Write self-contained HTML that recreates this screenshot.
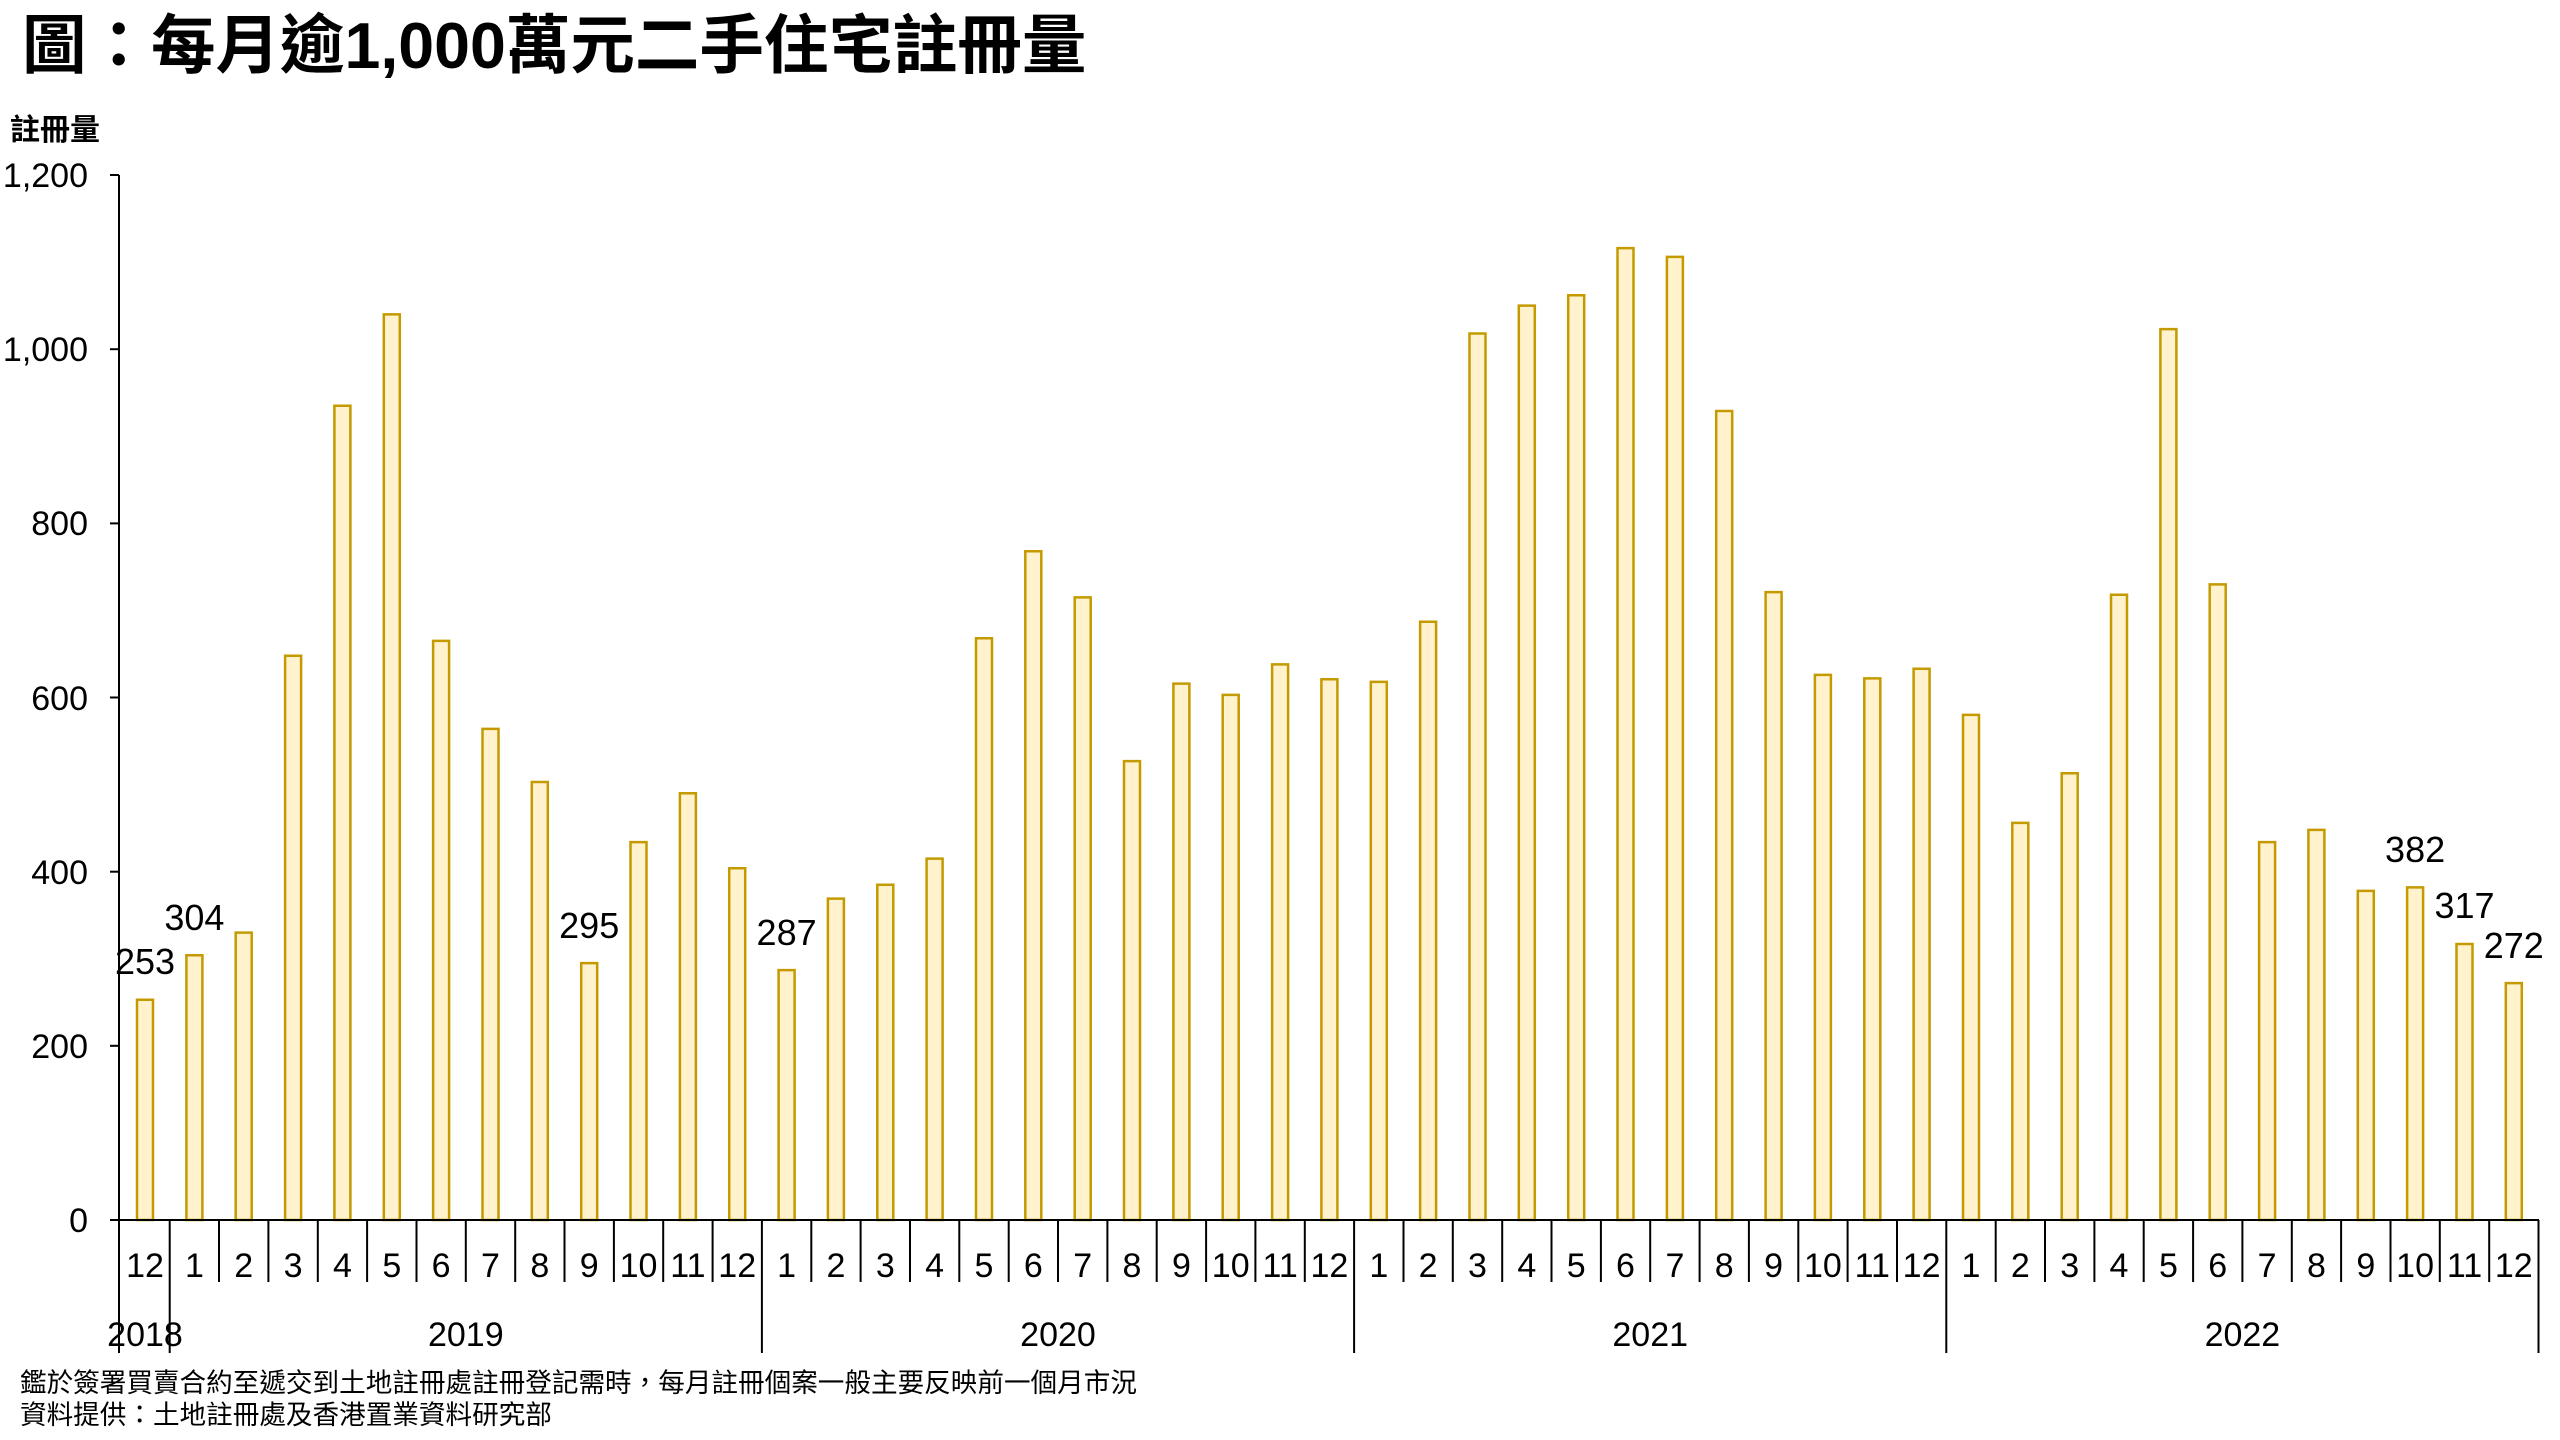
<!DOCTYPE html>
<html><head><meta charset="utf-8"><style>
body{margin:0;background:#fff;width:2560px;height:1440px;overflow:hidden}
svg{display:block}
text{font-family:"Liberation Sans","Noto Sans CJK TC",sans-serif;fill:#000}
</style></head><body>
<svg width="2560" height="1440" viewBox="0 0 2560 1440" xmlns="http://www.w3.org/2000/svg">
<text x="22" y="68" font-size="64.5" font-weight="bold">圖：每月逾1,000萬元二手住宅註冊量</text>
<text x="10" y="140" font-size="30" font-weight="bold">註冊量</text>
<g font-size="34" text-anchor="end">
<text x="88" y="1232">0</text><text x="88" y="1058">200</text><text x="88" y="884">400</text><text x="88" y="710">600</text><text x="88" y="535">800</text><text x="88" y="361">1,000</text><text x="88" y="187">1,200</text>
</g>
<g stroke="#000" stroke-width="2">
<line x1="119" y1="175" x2="119" y2="1353"/>
<line x1="110" y1="175" x2="119" y2="175"/><line x1="110" y1="349.2" x2="119" y2="349.2"/><line x1="110" y1="523.4" x2="119" y2="523.4"/><line x1="110" y1="697.5" x2="119" y2="697.5"/><line x1="110" y1="871.7" x2="119" y2="871.7"/><line x1="110" y1="1045.8" x2="119" y2="1045.8"/><line x1="110" y1="1220" x2="119" y2="1220"/>
</g>
<g transform="translate(0,1220) scale(1,-0.8708)" fill="#FFF2CC" stroke="#C49A00" stroke-width="2.5">
<rect vector-effect="non-scaling-stroke" x="137" y="0" width="16" height="253"/>
<rect vector-effect="non-scaling-stroke" x="186.4" y="0" width="16" height="304"/>
<rect vector-effect="non-scaling-stroke" x="235.7" y="0" width="16" height="330"/>
<rect vector-effect="non-scaling-stroke" x="285.1" y="0" width="16" height="648"/>
<rect vector-effect="non-scaling-stroke" x="334.4" y="0" width="16" height="935"/>
<rect vector-effect="non-scaling-stroke" x="383.8" y="0" width="16" height="1040"/>
<rect vector-effect="non-scaling-stroke" x="433.1" y="0" width="16" height="665"/>
<rect vector-effect="non-scaling-stroke" x="482.5" y="0" width="16" height="564"/>
<rect vector-effect="non-scaling-stroke" x="531.8" y="0" width="16" height="503"/>
<rect vector-effect="non-scaling-stroke" x="581.2" y="0" width="16" height="295"/>
<rect vector-effect="non-scaling-stroke" x="630.5" y="0" width="16" height="434"/>
<rect vector-effect="non-scaling-stroke" x="679.9" y="0" width="16" height="490"/>
<rect vector-effect="non-scaling-stroke" x="729.2" y="0" width="16" height="404"/>
<rect vector-effect="non-scaling-stroke" x="778.6" y="0" width="16" height="287"/>
<rect vector-effect="non-scaling-stroke" x="827.9" y="0" width="16" height="369"/>
<rect vector-effect="non-scaling-stroke" x="877.3" y="0" width="16" height="385"/>
<rect vector-effect="non-scaling-stroke" x="926.6" y="0" width="16" height="415"/>
<rect vector-effect="non-scaling-stroke" x="976" y="0" width="16" height="668"/>
<rect vector-effect="non-scaling-stroke" x="1025.3" y="0" width="16" height="768"/>
<rect vector-effect="non-scaling-stroke" x="1074.7" y="0" width="16" height="715"/>
<rect vector-effect="non-scaling-stroke" x="1124" y="0" width="16" height="527"/>
<rect vector-effect="non-scaling-stroke" x="1173.4" y="0" width="16" height="616"/>
<rect vector-effect="non-scaling-stroke" x="1222.7" y="0" width="16" height="603"/>
<rect vector-effect="non-scaling-stroke" x="1272.1" y="0" width="16" height="638"/>
<rect vector-effect="non-scaling-stroke" x="1321.4" y="0" width="16" height="621"/>
<rect vector-effect="non-scaling-stroke" x="1370.8" y="0" width="16" height="618"/>
<rect vector-effect="non-scaling-stroke" x="1420.1" y="0" width="16" height="687"/>
<rect vector-effect="non-scaling-stroke" x="1469.5" y="0" width="16" height="1018"/>
<rect vector-effect="non-scaling-stroke" x="1518.8" y="0" width="16" height="1050"/>
<rect vector-effect="non-scaling-stroke" x="1568.2" y="0" width="16" height="1062"/>
<rect vector-effect="non-scaling-stroke" x="1617.5" y="0" width="16" height="1116"/>
<rect vector-effect="non-scaling-stroke" x="1666.9" y="0" width="16" height="1106"/>
<rect vector-effect="non-scaling-stroke" x="1716.2" y="0" width="16" height="929"/>
<rect vector-effect="non-scaling-stroke" x="1765.6" y="0" width="16" height="721"/>
<rect vector-effect="non-scaling-stroke" x="1814.9" y="0" width="16" height="626"/>
<rect vector-effect="non-scaling-stroke" x="1864.3" y="0" width="16" height="622"/>
<rect vector-effect="non-scaling-stroke" x="1913.6" y="0" width="16" height="633"/>
<rect vector-effect="non-scaling-stroke" x="1963" y="0" width="16" height="580"/>
<rect vector-effect="non-scaling-stroke" x="2012.3" y="0" width="16" height="456"/>
<rect vector-effect="non-scaling-stroke" x="2061.7" y="0" width="16" height="513"/>
<rect vector-effect="non-scaling-stroke" x="2111" y="0" width="16" height="718"/>
<rect vector-effect="non-scaling-stroke" x="2160.4" y="0" width="16" height="1023"/>
<rect vector-effect="non-scaling-stroke" x="2209.7" y="0" width="16" height="730"/>
<rect vector-effect="non-scaling-stroke" x="2259.1" y="0" width="16" height="434"/>
<rect vector-effect="non-scaling-stroke" x="2308.4" y="0" width="16" height="448"/>
<rect vector-effect="non-scaling-stroke" x="2357.8" y="0" width="16" height="378"/>
<rect vector-effect="non-scaling-stroke" x="2407.1" y="0" width="16" height="382"/>
<rect vector-effect="non-scaling-stroke" x="2456.5" y="0" width="16" height="317"/>
<rect vector-effect="non-scaling-stroke" x="2505.8" y="0" width="16" height="272"/>
</g>
<g font-size="36" text-anchor="middle">
<text x="145" y="974">253</text><text x="194.4" y="930">304</text><text x="589.2" y="938">295</text><text x="786.6" y="945">287</text><text x="2415.1" y="862">382</text><text x="2464.5" y="918">317</text><text x="2513.8" y="958">272</text>
</g>
<g stroke="#000" stroke-width="2">
<line x1="118" y1="1220" x2="2539" y2="1220"/>
<line x1="169.7" y1="1220" x2="169.7" y2="1353"/><line x1="761.9" y1="1220" x2="761.9" y2="1353"/><line x1="1354.1" y1="1220" x2="1354.1" y2="1353"/><line x1="1946.3" y1="1220" x2="1946.3" y2="1353"/><line x1="2538.5" y1="1220" x2="2538.5" y2="1353"/>
<line x1="219" y1="1220" x2="219" y2="1282"/><line x1="268.4" y1="1220" x2="268.4" y2="1282"/><line x1="317.8" y1="1220" x2="317.8" y2="1282"/><line x1="367.1" y1="1220" x2="367.1" y2="1282"/><line x1="416.5" y1="1220" x2="416.5" y2="1282"/><line x1="465.8" y1="1220" x2="465.8" y2="1282"/><line x1="515.2" y1="1220" x2="515.2" y2="1282"/><line x1="564.5" y1="1220" x2="564.5" y2="1282"/><line x1="613.9" y1="1220" x2="613.9" y2="1282"/><line x1="663.2" y1="1220" x2="663.2" y2="1282"/><line x1="712.6" y1="1220" x2="712.6" y2="1282"/>
<line x1="811.3" y1="1220" x2="811.3" y2="1282"/><line x1="860.6" y1="1220" x2="860.6" y2="1282"/><line x1="910" y1="1220" x2="910" y2="1282"/><line x1="959.3" y1="1220" x2="959.3" y2="1282"/><line x1="1008.7" y1="1220" x2="1008.7" y2="1282"/><line x1="1058" y1="1220" x2="1058" y2="1282"/><line x1="1107.4" y1="1220" x2="1107.4" y2="1282"/><line x1="1156.7" y1="1220" x2="1156.7" y2="1282"/><line x1="1206.1" y1="1220" x2="1206.1" y2="1282"/><line x1="1255.4" y1="1220" x2="1255.4" y2="1282"/><line x1="1304.8" y1="1220" x2="1304.8" y2="1282"/>
<line x1="1403.5" y1="1220" x2="1403.5" y2="1282"/><line x1="1452.8" y1="1220" x2="1452.8" y2="1282"/><line x1="1502.2" y1="1220" x2="1502.2" y2="1282"/><line x1="1551.5" y1="1220" x2="1551.5" y2="1282"/><line x1="1600.9" y1="1220" x2="1600.9" y2="1282"/><line x1="1650.2" y1="1220" x2="1650.2" y2="1282"/><line x1="1699.6" y1="1220" x2="1699.6" y2="1282"/><line x1="1748.9" y1="1220" x2="1748.9" y2="1282"/><line x1="1798.3" y1="1220" x2="1798.3" y2="1282"/><line x1="1847.6" y1="1220" x2="1847.6" y2="1282"/><line x1="1897" y1="1220" x2="1897" y2="1282"/>
<line x1="1995.7" y1="1220" x2="1995.7" y2="1282"/><line x1="2045" y1="1220" x2="2045" y2="1282"/><line x1="2094.4" y1="1220" x2="2094.4" y2="1282"/><line x1="2143.7" y1="1220" x2="2143.7" y2="1282"/><line x1="2193.1" y1="1220" x2="2193.1" y2="1282"/><line x1="2242.4" y1="1220" x2="2242.4" y2="1282"/><line x1="2291.8" y1="1220" x2="2291.8" y2="1282"/><line x1="2341.1" y1="1220" x2="2341.1" y2="1282"/><line x1="2390.5" y1="1220" x2="2390.5" y2="1282"/><line x1="2439.8" y1="1220" x2="2439.8" y2="1282"/><line x1="2489.2" y1="1220" x2="2489.2" y2="1282"/>
</g>
<g font-size="34" text-anchor="middle">
<text x="145" y="1277">12</text>
<text x="194.4" y="1277">1</text><text x="243.7" y="1277">2</text><text x="293.1" y="1277">3</text><text x="342.4" y="1277">4</text><text x="391.8" y="1277">5</text><text x="441.1" y="1277">6</text><text x="490.5" y="1277">7</text><text x="539.8" y="1277">8</text><text x="589.2" y="1277">9</text><text x="638.5" y="1277">10</text><text x="687.9" y="1277">11</text><text x="737.2" y="1277">12</text>
<text x="786.6" y="1277">1</text><text x="835.9" y="1277">2</text><text x="885.3" y="1277">3</text><text x="934.6" y="1277">4</text><text x="984" y="1277">5</text><text x="1033.3" y="1277">6</text><text x="1082.7" y="1277">7</text><text x="1132" y="1277">8</text><text x="1181.4" y="1277">9</text><text x="1230.7" y="1277">10</text><text x="1280.1" y="1277">11</text><text x="1329.4" y="1277">12</text>
<text x="1378.8" y="1277">1</text><text x="1428.1" y="1277">2</text><text x="1477.5" y="1277">3</text><text x="1526.8" y="1277">4</text><text x="1576.2" y="1277">5</text><text x="1625.5" y="1277">6</text><text x="1674.9" y="1277">7</text><text x="1724.2" y="1277">8</text><text x="1773.6" y="1277">9</text><text x="1822.9" y="1277">10</text><text x="1872.3" y="1277">11</text><text x="1921.6" y="1277">12</text>
<text x="1971" y="1277">1</text><text x="2020.3" y="1277">2</text><text x="2069.7" y="1277">3</text><text x="2119" y="1277">4</text><text x="2168.4" y="1277">5</text><text x="2217.7" y="1277">6</text><text x="2267.1" y="1277">7</text><text x="2316.4" y="1277">8</text><text x="2365.8" y="1277">9</text><text x="2415.1" y="1277">10</text><text x="2464.5" y="1277">11</text><text x="2513.8" y="1277">12</text>
<text x="145" y="1346">2018</text><text x="465.8" y="1346">2019</text><text x="1058" y="1346">2020</text><text x="1650.2" y="1346">2021</text><text x="2242.4" y="1346">2022</text>
</g>
<text x="20" y="1392" font-size="26.6">鑑於簽署買賣合約至遞交到土地註冊處註冊登記需時，每月註冊個案一般主要反映前一個月市況</text>
<text x="20" y="1424" font-size="26.6">資料提供：土地註冊處及香港置業資料研究部</text>
</svg>
</body></html>
